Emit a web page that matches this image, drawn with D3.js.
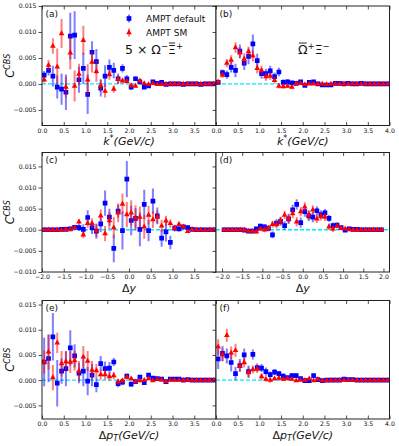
<!DOCTYPE html>
<html>
<head>
<meta charset="utf-8">
<script src="https://cdn.jsdelivr.net/npm/d3@7"></script>
<style>
body { margin: 0; background: #fff; }
text { font-family: "DejaVu Sans", sans-serif; }
</style>
</head>
<body>
<svg id="chart" width="399" height="446"></svg>
<script>
// bin centres
const kBins = [0.05,0.15,0.25,0.35,0.45,0.55,0.65,0.75,0.85,0.95,1.05,1.15,1.25,1.35,1.45,1.55,1.65,1.75,1.85,1.95,
               2.05,2.15,2.25,2.35,2.45,2.55,2.65,2.75,2.85,2.95,3.05,3.15,3.25,3.35,3.45,3.55,3.65,3.75,3.85,3.95];
const yBins = [-1.95,-1.85,-1.75,-1.65,-1.55,-1.45,-1.35,-1.25,-1.15,-1.05,-0.95,-0.85,-0.75,-0.65,-0.55,-0.45,-0.35,-0.25,-0.15,-0.05,
               0.05,0.15,0.25,0.35,0.45,0.55,0.65,0.75,0.85,0.95,1.05,1.15,1.25,1.35,1.45,1.55,1.65,1.75,1.85,1.95];

// (a) 5 x Omega- Xibar+ vs k*
const aDefault = [0.0017,0.0026,0.0015,-0.0006,-0.0010,-0.0016,0.0092,0.0094,0.0008,0.0030,
                  -0.0020,0.0061,0.0043,-0.0008,0.0015,0.0032,0.0026,0.0010,0.0030,0.0010,
                  -0.0006,0.0010,0.0004,-0.0006,-0.0004,0.0004,0.0001,0.0003,-0.0001,0.0000,
                  0.0000,0.0000,-0.0001,0.0000,0.0000,0.0000,-0.0001,0.0000,0.0000,0.0000];
const aDefaultErr = [0.0008,0.0010,0.0020,0.0022,0.0030,0.0034,0.0045,0.0046,0.0025,0.0030,
                     0.0038,0.0021,0.0024,0.0016,0.0021,0.0015,0.0015,0.0010,0.0008,0.0007,
                     0.0005,0.0004,0.0004,0.0003,0.0003,0.0003,0.0002,0.0002,0.0002,0.0002,
                     0.0001,0.0001,0.0001,0.0001,0.0001,0.0001,0.0001,0.0001,0.0001,0.0001];
const aSM = [0.0008,0.0036,0.0073,0.0033,0.0097,-0.0006,0.0060,-0.0004,0.0019,0.0084,
             0.0008,0.0042,0.0024,-0.0003,-0.0014,0.0018,-0.0010,0.0009,0.0006,0.0005,
             -0.0003,-0.0004,0.0006,0.0001,-0.0001,0.0001,-0.0001,-0.0001,0.0000,0.0000,
             0.0000,0.0000,0.0000,0.0000,0.0000,0.0000,0.0000,0.0000,0.0000,0.0000];
const aSMErr = [0.0005,0.0010,0.0015,0.0035,0.0028,0.0020,0.0032,0.0030,0.0020,0.0028,
                0.0030,0.0020,0.0020,0.0012,0.0012,0.0010,0.0007,0.0008,0.0005,0.0004,
                0.0004,0.0003,0.0003,0.0003,0.0002,0.0002,0.0002,0.0002,0.0002,0.0001,
                0.0001,0.0001,0.0001,0.0001,0.0001,0.0001,0.0001,0.0001,0.0001,0.0001];

// (b) Omegabar+ Xi- vs k*
const bDefault = [0.0003,0.0022,0.0018,0.0032,0.0026,0.0063,0.0040,0.0053,0.0077,0.0045,
                  0.0020,0.0020,0.0025,0.0014,0.0023,0.0003,0.0004,0.0002,0.0001,0.0004,
                  -0.0003,0.0003,0.0004,0.0000,-0.0002,-0.0002,-0.0002,0.0001,0.0001,0.0000,
                  0.0001,0.0000,0.0000,0.0001,0.0000,0.0000,0.0000,0.0000,0.0000,0.0000];
const bDefaultErr = [0.0004,0.0006,0.0008,0.0010,0.0013,0.0013,0.0013,0.0015,0.0018,0.0013,
                     0.0010,0.0009,0.0010,0.0008,0.0008,0.0006,0.0005,0.0004,0.0003,0.0003,
                     0.0003,0.0002,0.0002,0.0002,0.0002,0.0002,0.0002,0.0002,0.0001,0.0001,
                     0.0001,0.0001,0.0001,0.0001,0.0001,0.0001,0.0001,0.0001,0.0001,0.0001];
const bSM = [0.0004,0.0017,0.0040,0.0046,0.0070,0.0060,0.0048,0.0062,0.0054,0.0030,
             0.0026,0.0014,0.0015,0.0007,-0.0004,-0.0005,-0.0004,-0.0006,0.0001,0.0001,
             -0.0001,0.0000,0.0000,0.0000,0.0000,-0.0001,0.0000,0.0000,0.0000,0.0000,
             0.0000,0.0000,0.0000,0.0000,0.0000,0.0000,0.0000,0.0000,0.0000,0.0000];
const bSMErr = [0.0003,0.0005,0.0008,0.0009,0.0010,0.0011,0.0011,0.0010,0.0011,0.0010,
                0.0009,0.0008,0.0007,0.0006,0.0005,0.0004,0.0004,0.0004,0.0003,0.0003,
                0.0002,0.0002,0.0002,0.0002,0.0002,0.0002,0.0001,0.0001,0.0001,0.0001,
                0.0001,0.0001,0.0001,0.0001,0.0001,0.0001,0.0001,0.0001,0.0001,0.0001];

// (c) vs Delta y
const cDefault = [0.0000,0.0000,0.0000,0.0000,0.0001,0.0001,0.0002,0.0006,0.0005,0.0001,
                  0.0029,0.0005,-0.0003,0.0014,0.0063,0.0030,-0.0044,0.0044,-0.0002,0.0120,
                  0.0022,0.0027,0.0001,0.0060,-0.0002,0.0068,0.0033,-0.0020,-0.0005,-0.0030,
                  0.0004,0.0002,0.0007,0.0005,0.0001,0.0000,0.0000,0.0000,0.0000,0.0000];
const cDefaultErr = [0.0002,0.0002,0.0002,0.0002,0.0002,0.0002,0.0003,0.0005,0.0008,0.0012,
                     0.0017,0.0015,0.0018,0.0020,0.0030,0.0020,0.0033,0.0015,0.0045,0.0043,
                     0.0035,0.0024,0.0040,0.0035,0.0025,0.0030,0.0020,0.0020,0.0023,0.0016,
                     0.0008,0.0006,0.0005,0.0004,0.0002,0.0002,0.0002,0.0002,0.0002,0.0002];
const cSM = [0.0000,0.0000,0.0000,0.0000,-0.0001,0.0001,0.0001,0.0005,0.0019,-0.0012,
             0.0015,0.0015,-0.0002,0.0033,-0.0009,0.0022,0.0005,0.0040,0.0061,0.0036,
             0.0040,0.0028,0.0030,0.0007,0.0035,0.0024,0.0030,0.0009,0.0021,0.0015,
             0.0004,0.0013,0.0007,-0.0004,0.0001,0.0000,0.0000,-0.0001,0.0000,0.0000];
const cSMErr = [0.0002,0.0002,0.0002,0.0002,0.0002,0.0002,0.0003,0.0004,0.0006,0.0008,
                0.0010,0.0012,0.0015,0.0015,0.0018,0.0020,0.0025,0.0022,0.0025,0.0030,
                0.0030,0.0030,0.0025,0.0028,0.0022,0.0020,0.0015,0.0015,0.0012,0.0010,
                0.0007,0.0006,0.0004,0.0004,0.0002,0.0002,0.0002,0.0002,0.0002,0.0002];

// (d) vs Delta y
const dDefault = [0.0000,0.0000,0.0000,0.0000,0.0000,-0.0001,-0.0003,-0.0003,0.0002,0.0009,
                  0.0007,0.0003,-0.0012,0.0016,0.0020,0.0010,0.0026,0.0047,0.0060,0.0017,
                  0.0043,0.0033,0.0030,0.0045,0.0036,0.0040,0.0027,0.0010,0.0011,0.0005,
                  -0.0001,0.0002,0.0001,0.0001,0.0000,0.0000,0.0000,0.0000,0.0000,0.0000];
const dDefaultErr = [0.0002,0.0002,0.0002,0.0002,0.0002,0.0002,0.0002,0.0002,0.0004,0.0005,
                     0.0006,0.0007,0.0008,0.0009,0.0010,0.0010,0.0012,0.0012,0.0012,0.0012,
                     0.0012,0.0012,0.0012,0.0011,0.0010,0.0009,0.0008,0.0007,0.0006,0.0004,
                     0.0004,0.0002,0.0002,0.0002,0.0002,0.0002,0.0002,0.0002,0.0002,0.0002];
const dSM = [0.0000,0.0000,0.0000,0.0000,0.0000,0.0000,-0.0003,-0.0003,-0.0005,0.0002,
             0.0000,0.0004,0.0013,0.0012,0.0021,0.0035,0.0026,0.0038,0.0019,0.0043,
             0.0054,0.0035,0.0047,0.0026,0.0032,0.0030,0.0007,0.0002,0.0009,0.0004,
             0.0002,0.0001,0.0000,0.0000,0.0000,0.0000,0.0000,0.0000,0.0000,0.0000];
const dSMErr = [0.0002,0.0002,0.0002,0.0002,0.0002,0.0002,0.0002,0.0002,0.0004,0.0005,
                0.0006,0.0007,0.0008,0.0009,0.0010,0.0010,0.0011,0.0011,0.0011,0.0011,
                0.0011,0.0011,0.0011,0.0010,0.0010,0.0009,0.0008,0.0007,0.0006,0.0004,
                0.0003,0.0002,0.0002,0.0002,0.0002,0.0002,0.0002,0.0002,0.0002,0.0002];

// (e) vs Delta pT
const eDefault = [0.0036,0.0043,0.0086,-0.0006,0.0018,0.0023,0.0064,0.0048,0.0014,0.0018,
                  -0.0002,0.0010,-0.0009,0.0033,0.0023,0.0024,0.0036,-0.0007,-0.0004,0.0008,
                  -0.0008,-0.0003,0.0006,-0.0005,0.0010,0.0004,0.0003,0.0002,-0.0003,0.0002,
                  0.0002,0.0002,0.0000,0.0001,0.0000,0.0000,0.0000,0.0000,0.0000,0.0000];
const eDefaultErr = [0.0048,0.0047,0.0047,0.0046,0.0025,0.0035,0.0035,0.0023,0.0020,0.0030,
                     0.0028,0.0022,0.0015,0.0015,0.0014,0.0012,0.0008,0.0007,0.0006,0.0005,
                     0.0005,0.0004,0.0004,0.0003,0.0003,0.0002,0.0002,0.0002,0.0002,0.0002,
                     0.0002,0.0001,0.0001,0.0001,0.0001,0.0001,0.0001,0.0001,0.0001,0.0001];
const eSM = [0.0036,0.0056,0.0005,0.0074,0.0033,0.0037,0.0036,0.0039,0.0018,0.0046,
             0.0038,0.0020,0.0019,0.0011,0.0011,0.0007,0.0009,-0.0003,-0.0001,0.0006,
             0.0003,-0.0003,-0.0001,0.0000,0.0003,-0.0001,0.0002,0.0001,-0.0003,0.0000,
             0.0000,0.0000,0.0000,0.0000,0.0000,0.0000,0.0000,0.0000,0.0000,0.0000];
const eSMErr = [0.0023,0.0035,0.0025,0.0020,0.0025,0.0020,0.0022,0.0020,0.0020,0.0022,
                0.0020,0.0018,0.0013,0.0010,0.0010,0.0008,0.0007,0.0006,0.0005,0.0004,
                0.0004,0.0003,0.0003,0.0002,0.0002,0.0002,0.0002,0.0002,0.0002,0.0001,
                0.0001,0.0001,0.0001,0.0001,0.0001,0.0001,0.0001,0.0001,0.0001,0.0001];

// (f) vs Delta pT
const fDefault = [0.0042,0.0053,0.0048,0.0035,0.0013,0.0029,0.0050,0.0017,0.0051,0.0025,
                  0.0024,0.0017,0.0011,0.0016,0.0013,0.0008,0.0005,0.0009,0.0009,0.0003,
                  -0.0001,-0.0001,0.0009,0.0001,-0.0001,0.0000,0.0000,0.0000,0.0000,0.0002,
                  0.0001,0.0001,0.0000,0.0000,0.0000,0.0000,0.0000,0.0000,0.0000,0.0000];
const fDefaultErr = [0.0020,0.0015,0.0015,0.0018,0.0013,0.0013,0.0013,0.0012,0.0010,0.0008,
                     0.0008,0.0008,0.0006,0.0006,0.0005,0.0005,0.0004,0.0004,0.0004,0.0003,
                     0.0003,0.0003,0.0003,0.0002,0.0002,0.0002,0.0002,0.0002,0.0002,0.0002,
                     0.0001,0.0001,0.0001,0.0001,0.0001,0.0001,0.0001,0.0001,0.0001,0.0001];
const fSM = [0.0066,0.0050,0.0089,0.0054,0.0059,0.0028,0.0035,0.0015,0.0021,0.0022,
             0.0007,0.0002,0.0000,0.0003,0.0004,0.0002,0.0003,0.0002,-0.0001,0.0000,
             0.0000,0.0003,-0.0001,0.0002,-0.0001,-0.0001,0.0000,0.0000,0.0000,0.0000,
             0.0000,0.0000,0.0000,0.0000,0.0000,0.0000,0.0000,0.0000,0.0000,0.0000];
const fSMErr = [0.0015,0.0013,0.0013,0.0013,0.0013,0.0010,0.0010,0.0010,0.0008,0.0008,
                0.0006,0.0005,0.0005,0.0004,0.0004,0.0003,0.0003,0.0003,0.0003,0.0002,
                0.0002,0.0002,0.0002,0.0002,0.0002,0.0002,0.0001,0.0001,0.0001,0.0001,
                0.0001,0.0001,0.0001,0.0001,0.0001,0.0001,0.0001,0.0001,0.0001,0.0001];

// tick values
const kTicksLeft = [0, 0.5, 1.0, 1.5, 2.0, 2.5, 3.0, 3.5];
const kTicksRight = [0, 0.5, 1.0, 1.5, 2.0, 2.5, 3.0, 3.5, 4.0];
const dyTicksLeft = [-2.0, -1.5, -1.0, -0.5, 0, 0.5, 1.0, 1.5];
const dyTicksRight = [-2.0, -1.5, -1.0, -0.5, 0, 0.5, 1.0, 1.5, 2.0];
const cTicksTop = [-0.005, 0, 0.005, 0.010, 0.015];
const cTicksMid = [-0.010, -0.005, 0, 0.005, 0.010, 0.015];

const BLUE = "#0000ff", RED = "#ff0000";
const svg = d3.select("#chart");

const cols = [[42, 216], [216, 389.5]];
const rows = [[6, 125.5], [152.5, 272], [300.5, 419]];

function drawPanel(p) {
  const [x0, x1] = cols[p.col], [y0, y1] = rows[p.row];
  const x = d3.scaleLinear().domain(p.xDomain).range([x0, x1]);
  const y = d3.scaleLinear().domain(p.yDomain).range([y1, y0]);
  const g = svg.append("g");

  g.append("rect").attr("x", x0).attr("y", y0).attr("width", x1 - x0).attr("height", y1 - y0)
    .attr("fill", "#fff");

  svg.append("clipPath").attr("id", "clip-" + p.name)
    .append("rect").attr("x", x0).attr("y", y0).attr("width", x1 - x0).attr("height", y1 - y0);
  const plot = g.append("g").attr("clip-path", "url(#clip-" + p.name + ")");

  // zero line
  plot.append("line")
    .attr("x1", x0).attr("x2", x1).attr("y1", y(0)).attr("y2", y(0))
    .attr("stroke", "#00e8ff").attr("stroke-width", 1.3).attr("stroke-dasharray", "4,2");

  const series = [
    {vals: p.def, errs: p.defErr, color: BLUE, sym: d3.symbol(d3.symbolSquare, 22)},
    {vals: p.sm, errs: p.smErr, color: RED, sym: d3.symbol(d3.symbolTriangle, 14)}
  ];
  series.forEach(s => {
    plot.selectAll(null).data(p.bins).enter().append("line")
      .attr("x1", d => x(d)).attr("x2", d => x(d))
      .attr("y1", (d, i) => y(s.vals[i] - s.errs[i]))
      .attr("y2", (d, i) => y(s.vals[i] + s.errs[i]))
      .attr("stroke", s.color).attr("stroke-opacity", 0.5).attr("stroke-width", 2);
    plot.selectAll(null).data(p.bins).enter().append("path")
      .attr("d", s.sym)
      .attr("transform", (d, i) => `translate(${x(d)},${y(s.vals[i])})`)
      .attr("fill", s.color);
  });

  // axes
  const fmtX = d3.format(".1f"), fmtY = d3.format(".3f");
  g.append("g").attr("transform", `translate(0,${y1})`)
    .call(d3.axisBottom(x).tickValues(p.xTicks).tickSize(-3.5).tickPadding(3).tickFormat(fmtX));
  g.append("g").attr("transform", `translate(0,${y0})`)
    .call(d3.axisTop(x).tickValues(p.xTicks).tickSize(-3.5).tickFormat(""));
  g.append("g").attr("transform", `translate(${x0},0)`)
    .call(d3.axisLeft(y).tickValues(p.yTicks).tickSize(3.5).tickPadding(2)
      .tickFormat(p.col === 0 ? fmtY : ""));
  g.selectAll(".domain").remove();
  g.selectAll(".tick line").attr("stroke", "#222").attr("stroke-width", 0.8);
  g.selectAll(".tick text").attr("font-size", 6.2).attr("fill", "#111")
    .attr("font-family", "DejaVu Sans");

  g.append("rect").attr("x", x0).attr("y", y0).attr("width", x1 - x0).attr("height", y1 - y0)
    .attr("fill", "none").attr("stroke", "#222").attr("stroke-width", 1);

  // panel label
  g.append("text").attr("x", x0 + 3.5).attr("y", y0 + 10.5)
    .attr("font-size", 9).attr("fill", "#111").text("(" + p.name + ")");

  // x label
  const xl = g.append("text").attr("x", (x0 + x1) / 2).attr("y", y1 + 19.5)
    .attr("text-anchor", "middle").attr("font-size", 11).attr("fill", "#111");
  p.xLabel(xl);

  // y label
  if (p.col === 0) {
    const yl = g.append("text")
      .attr("transform", `translate(14,${(y0 + y1) / 2}) rotate(-90)`)
      .attr("text-anchor", "middle").attr("font-size", 11.5).attr("fill", "#111");
    yl.append("tspan").attr("font-style", "italic").text("C");
    yl.append("tspan").attr("font-size", 8).attr("font-style", "italic").attr("dy", -4.5).text("CBS");
  }
  return g;
}

const kLabel = t => {
  t.append("tspan").attr("font-style", "italic").text("k");
  t.append("tspan").attr("font-size", 8).attr("dy", -4).text("*");
  t.append("tspan").attr("font-style", "italic").attr("dy", 4).text("(GeV/c)");
};
const dyLabel = t => {
  t.append("tspan").text("Δ");
  t.append("tspan").attr("font-style", "italic").text("y");
};
const ptLabel = t => {
  t.append("tspan").text("Δ");
  t.append("tspan").attr("font-style", "italic").text("p");
  t.append("tspan").attr("font-style", "italic").attr("font-size", 8).attr("dy", 2.5).text("T");
  t.append("tspan").attr("font-style", "italic").attr("dy", -2.5).text("(GeV/c)");
};

drawPanel({name: "a", col: 0, row: 0, bins: kBins, xDomain: [0, 4], yDomain: [-0.008, 0.015],
  xTicks: kTicksLeft, yTicks: cTicksTop, def: aDefault, defErr: aDefaultErr, sm: aSM, smErr: aSMErr, xLabel: kLabel});
drawPanel({name: "b", col: 1, row: 0, bins: kBins, xDomain: [0, 4], yDomain: [-0.008, 0.015],
  xTicks: kTicksRight, yTicks: cTicksTop, def: bDefault, defErr: bDefaultErr, sm: bSM, smErr: bSMErr, xLabel: kLabel});
drawPanel({name: "c", col: 0, row: 1, bins: yBins, xDomain: [-2, 2], yDomain: [-0.010, 0.0183],
  xTicks: dyTicksLeft, yTicks: cTicksMid, def: cDefault, defErr: cDefaultErr, sm: cSM, smErr: cSMErr, xLabel: dyLabel});
drawPanel({name: "d", col: 1, row: 1, bins: yBins, xDomain: [-2.15, 2.15], yDomain: [-0.010, 0.0183],
  xTicks: dyTicksRight, yTicks: cTicksMid, def: dDefault, defErr: dDefaultErr, sm: dSM, smErr: dSMErr, xLabel: dyLabel});
drawPanel({name: "e", col: 0, row: 2, bins: kBins, xDomain: [0, 4], yDomain: [-0.0077, 0.0158],
  xTicks: kTicksLeft, yTicks: cTicksTop, def: eDefault, defErr: eDefaultErr, sm: eSM, smErr: eSMErr, xLabel: ptLabel});
drawPanel({name: "f", col: 1, row: 2, bins: kBins, xDomain: [0, 4], yDomain: [-0.0077, 0.0158],
  xTicks: kTicksRight, yTicks: cTicksTop, def: fDefault, defErr: fDefaultErr, sm: fSM, smErr: fSMErr, xLabel: ptLabel});

// legend in panel (a)
const legend = svg.append("g");
[{label: "AMPT default", color: BLUE, sym: d3.symbol(d3.symbolSquare, 22), y: 18.5},
 {label: "AMPT SM", color: RED, sym: d3.symbol(d3.symbolTriangle, 14), y: 32.5}].forEach(l => {
  legend.append("line").attr("x1", 129).attr("x2", 129).attr("y1", l.y - 4).attr("y2", l.y + 4)
    .attr("stroke", l.color).attr("stroke-opacity", 0.5).attr("stroke-width", 2);
  legend.append("path").attr("d", l.sym).attr("transform", `translate(129,${l.y})`).attr("fill", l.color);
  legend.append("text").attr("x", 146).attr("y", l.y + 3.2).attr("font-size", 9).attr("fill", "#111").text(l.label);
});

// system annotations, with a bar drawn over the anti-particle
function particleText(x, y, parts, barIndex) {
  const t = svg.append("text").attr("x", x).attr("y", y).attr("font-size", 12.5).attr("fill", "#111");
  parts.forEach(pt => {
    t.append("tspan").attr("font-size", pt.sup ? 8.5 : 12.5).attr("dy", pt.dy || 0).text(pt.s);
  });
  const node = t.node();
  const a = node.getStartPositionOfChar(barIndex), b = node.getEndPositionOfChar(barIndex);
  svg.append("line").attr("x1", a.x + 0.8).attr("x2", b.x - 0.8)
    .attr("y1", y - 11).attr("y2", y - 11).attr("stroke", "#111").attr("stroke-width", 0.9);
}
particleText(125, 54, [{s: "5 × Ω"}, {s: "−", sup: true, dy: -5}, {s: "Ξ", dy: 5}, {s: "+", sup: true, dy: -5}], 6);
particleText(298, 54, [{s: "Ω"}, {s: "+", sup: true, dy: -5}, {s: "Ξ", dy: 5}, {s: "−", sup: true, dy: -5}], 0);
</script>
</body>
</html>
